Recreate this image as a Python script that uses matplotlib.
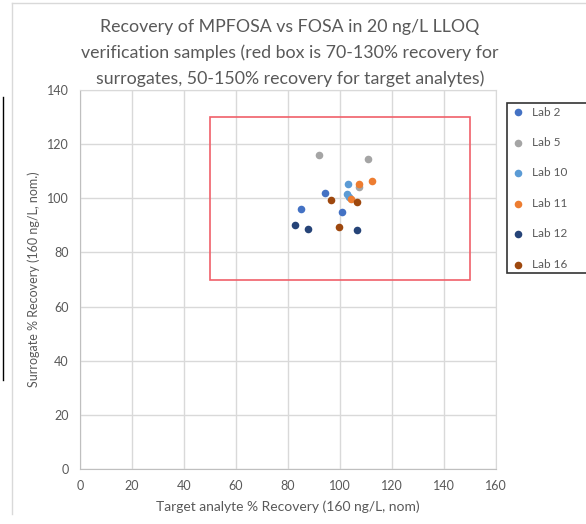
import matplotlib.pyplot as plt
from matplotlib.patches import Rectangle
from matplotlib.lines import Line2D

plt.rcParams['font.family'] = ['Lato', 'DejaVu Sans']

# data: target analyte % recovery (x), surrogate % recovery (y)
labs = ['Lab 2', 'Lab 5', 'Lab 10', 'Lab 11', 'Lab 12', 'Lab 16']
colors = ['#4472C4', '#A5A5A5', '#5B9BD5', '#ED7D31', '#264478', '#9E480E']
lab2_x = [94.2, 85.1, 100.9]
lab2_y = [102.0, 96.0, 94.9]
lab5_x = [92.1, 110.8, 107.2]
lab5_y = [115.9, 114.5, 104.2]
lab10_x = [102.9, 102.6, 103.6]
lab10_y = [105.1, 101.6, 100.4]
lab11_x = [107.4, 112.2, 104.2]
lab11_y = [105.4, 106.5, 99.6]
lab12_x = [82.6, 87.8, 106.5]
lab12_y = [90.1, 88.5, 88.3]
lab16_x = [96.5, 99.6, 106.5]
lab16_y = [99.2, 89.4, 98.6]
xs = [lab2_x, lab5_x, lab10_x, lab11_x, lab12_x, lab16_x]
ys = [lab2_y, lab5_y, lab10_y, lab11_y, lab12_y, lab16_y]

# acceptance box: 50-150% target, 70-130% surrogate
box_x = (50, 150)
box_y = (70, 130)

W, H = 586, 524
fig = plt.figure(figsize=(W / 100, H / 100), dpi=100)
ax = fig.add_axes([80 / W, 1 - 469 / H, 416 / W, 379 / H])

grey = '#595959'
for lab, c, x, y in zip(labs, colors, xs, ys):
    ax.scatter(x, y, s=30, color=c, label=lab, zorder=3, linewidths=0)

ax.add_patch(Rectangle((box_x[0], box_y[0]), box_x[1] - box_x[0], box_y[1] - box_y[0],
                       fill=False, edgecolor='#F0606A', linewidth=1.2, zorder=2))

ax.set_xlim(0, 160)
ax.set_ylim(0, 140)
ax.set_xticks(range(0, 161, 20))
ax.set_yticks(range(0, 141, 20))
ax.grid(True, color='#D9D9D9', linewidth=1)
ax.set_axisbelow(True)
for s in ax.spines.values():
    s.set_color('#D9D9D9')
ax.spines['bottom'].set_color('#BFBFBF')
ax.spines['left'].set_color('#BFBFBF')
ax.tick_params(length=0, colors=grey, labelsize=9, pad=8)

ax.set_xlabel('Target analyte % Recovery (160 ng/L, nom)', color=grey, fontsize=10, labelpad=6)
ax.set_ylabel('Surrogate % Recovery (160 ng/L, nom.)', color=grey, fontsize=9, labelpad=5)

fig.text(290 / W, 1 - 53 / H,
         'Recovery of MPFOSA vs FOSA in 20 ng/L LLOQ\n'
         'verification samples (red box is 70-130% recovery for\n'
         'surrogates, 50-150% recovery for target analytes)',
         ha='center', va='center', fontsize=12.8, color=grey, linespacing=1.7)

leg = ax.legend(loc='upper left', bbox_to_anchor=(507 / W, 1 - 288 / H, 0.2, 185 / H),
                bbox_transform=fig.transFigure, mode='expand', frameon=True,
                fancybox=False, fontsize=8.5, labelspacing=1.65, handletextpad=0.6,
                borderpad=0.3, handlelength=1.2, borderaxespad=0)
leg.get_frame().set_edgecolor('black')
leg.get_frame().set_linewidth(1.2)
for t in leg.get_texts():
    t.set_color(grey)

# chart frame and screenshot edges
fig.add_artist(Line2D([12 / W, 12 / W], [0.02, 1 - 3 / H], transform=fig.transFigure,
                      color='#D9D9D9', linewidth=1))
fig.add_artist(Line2D([12 / W, 1], [1 - 3 / H, 1 - 3 / H], transform=fig.transFigure,
                      color='#D9D9D9', linewidth=1))
fig.add_artist(Line2D([3 / W, 3 / W], [1 - 380 / H, 1 - 97 / H], transform=fig.transFigure,
                      color='black', linewidth=1))

fig.savefig('out.png', dpi=100)
